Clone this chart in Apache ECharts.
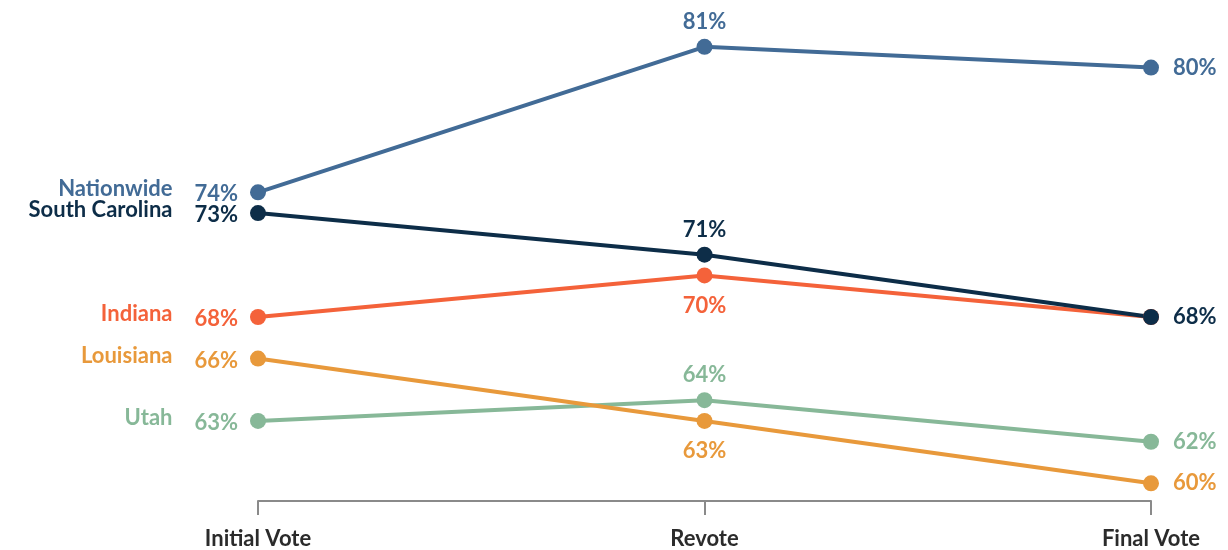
<!DOCTYPE html>
<html>
<head>
<meta charset="utf-8">
<script src="https://cdn.jsdelivr.net/npm/echarts@6/dist/echarts.min.js"></script>
<style>
  html, body { margin: 0; padding: 0; background: #fff; }
  #chart { width: 1228px; height: 550px; }
</style>
</head>
<body>
<div id="chart"></div>
<script>
// data
const categories = ['Initial Vote', 'Revote', 'Final Vote']
const nationwide = [74, 81, 80]
const southCarolina = [73, 71, 68]
const indiana = [68, 70, 68]
const louisiana = [66, 63, 60]
const utah = [63, 64, 62]

const FONT = 'Lato'

// where each point's label goes (initial / revote / final)
function makeSeries(name, values, color, revotePos, showFinal) {
  const positions = ['left', revotePos, 'right']
  const midDist = revotePos === 'top' ? 6 : 11
  return {
    name: name,
    type: 'line',
    symbol: 'circle',
    symbolSize: 16,
    lineStyle: { width: 4, color: color },
    itemStyle: { color: color },
    emphasis: { disabled: true },
    data: values.map((v, i) => ({
      value: v,
      label: {
        show: i === 2 ? showFinal : true,
        position: positions[i],
        distance: i === 0 ? 12 : (i === 2 ? 14 : midDist),
        color: color,
        fontFamily: FONT,
        fontSize: 22,
        fontWeight: 'bold',
        formatter: i === 0
          ? '{n|' + name + '}{v|' + v + '%}'
          : v + '%',
        rich: {
          n: {
            color: color, fontFamily: FONT, fontSize: 22, fontWeight: 'bold',
            padding: [0, 22, 6, 0]
          },
          v: {
            color: color, fontFamily: FONT, fontSize: 22, fontWeight: 'bold',
            padding: [4, 0, 0, 0]
          }
        }
      }
    }))
  }
}

const chart = echarts.init(document.getElementById('chart'))
chart.setOption({
  animation: false,
  grid: { left: 258, right: 77, top: 26, bottom: 49 },
  xAxis: {
    type: 'category',
    data: categories,
    boundaryGap: false,
    axisLine: { lineStyle: { color: '#8a8a8a', width: 2 } },
    axisTick: { show: true, length: 14, lineStyle: { color: '#8a8a8a', width: 2 } },
    axisLabel: {
      margin: 27,
      color: '#2b2b2b',
      fontFamily: FONT,
      fontSize: 22,
      fontWeight: 'bold'
    }
  },
  yAxis: {
    type: 'value',
    min: 59.15,
    max: 82,
    show: false
  },
  series: [
    makeSeries('Utah', utah, '#87b898', 'top', true),
    makeSeries('Louisiana', louisiana, '#e8993b', 'bottom', true),
    makeSeries('Indiana', indiana, '#f4623a', 'bottom', false),
    makeSeries('South Carolina', southCarolina, '#0d2d48', 'top', true),
    makeSeries('Nationwide', nationwide, '#426b96', 'top', true)
  ]
})
</script>
</body>
</html>
